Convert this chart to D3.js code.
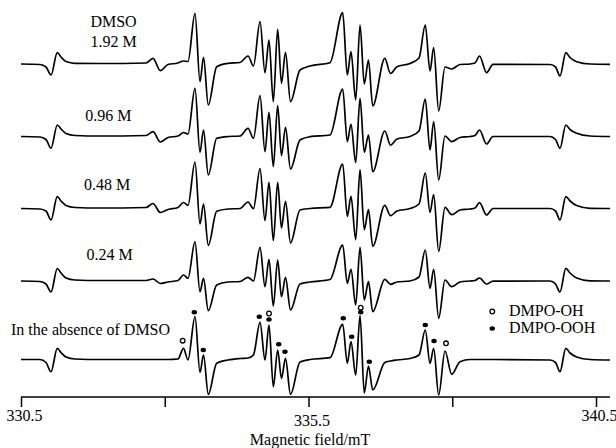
<!DOCTYPE html>
<html><head><meta charset="utf-8">
<script src="https://cdn.jsdelivr.net/npm/d3@7"></script>
<style>
body{margin:0;background:#fff}
svg{display:block}
text{font-family:"Liberation Serif","Times New Roman",serif;fill:#000}
</style>
</head><body>
<svg id="chart" width="616" height="448"></svg>
<script>
// ---- data (field in mT, intensities in arbitrary units) ----
const field = [330.500,330.830,330.935,331.022,331.131,331.196,331.283,331.439,331.874,332.674,
  332.796,332.923,333.057,333.230,333.326,333.404,333.526,333.613,333.674,333.757,
  333.903,334.100,334.309,334.448,334.543,334.657,334.743,334.813,334.888,334.964,
  335.030,335.100,335.187,335.352,335.526,335.874,336.095,336.175,336.239,336.321,
  336.396,336.470,336.543,336.617,336.827,336.926,337.039,337.265,337.422,337.531,
  337.613,337.677,337.764,337.874,337.990,338.135,338.309,338.396,338.474,338.596,
  338.709,339.700,339.796,339.874,339.975,340.048,340.164,340.396,340.743];

const dmso192 = [0,-0.5,-3,-11,11.3,7,2.5,0.7,0.5,1,
  5.7,-6.7,-0.5,1,3,2.5,50.7,-17.7,6.7,-41,
  -2.7,0.7,1.5,8,-2,42.3,-8.7,24,-37.7,34.7,
  -19.3,11.7,-37.7,-6,-2,1.3,51.3,-11,12.3,-36,
  39,-20,4,-42,5.7,-9.5,-2.7,0.5,6,39,
  -7,16.3,-47,-3,-5,-0.5,0,1,8,-8.7,
  -0.3,-0.5,-3,-12,11.3,6.5,2.3,0,-0.3];

const dmso096 = [0,-0.5,-3,-11.8,11.5,7.5,3,1,0.5,1,
  4.8,-5.5,-1,0.5,4,2.5,48.2,-15.8,6.5,-38.5,
  -1.8,0,0.5,8.2,-1.8,40.8,-15.2,24.2,-30.2,30.8,
  -19.2,9.2,-32.5,-3.5,-0.2,1.5,47.5,-5.2,12.2,-26,
  38.2,-15.8,1.5,-35.2,5.5,-8.5,-2.5,0,5.5,37.5,
  -13.5,14.8,-43.5,0.5,-5.2,-1,0,1,6.5,-7.5,
  0,0,-3,-11.8,11.5,7,3.2,0.5,0];

const dmso048 = [0,-0.5,-2.5,-11.5,11.8,7.5,3,1,0.5,1,
  5,-4,-1,1,6,3.2,46.5,-15.5,4.5,-36.8,
  -2.8,-0.5,0,6.5,-0.2,39.8,-12.2,26.2,-32.2,26.2,
  -19.5,7.2,-34.5,-1.5,0,1.2,44.5,-7.8,12.2,-31.2,
  38.8,-21.2,-1.2,-37.8,3.2,-7.2,-2.5,0,4.5,35.5,
  -3.8,13.8,-42.8,1.2,-6.2,-1.5,-0.5,0.5,5.8,-6.5,
  0,0,-2.5,-11.5,11.8,7.5,3,0.2,0];

const dmso024 = [0,-0.5,-3,-11,12.5,8,3,1,0.5,0.5,
  2,-2.5,-1,0.5,6,2.7,39.3,-10.7,2.7,-29.7,
  -4,-1,-0.5,3.7,0,33.7,-5.7,21.7,-25,21,
  -15.7,3.7,-29,-3,-1,1.5,36,-2.3,11.7,-24,
  33.7,-19,-0.7,-30.7,1.7,-3.3,-1,0,4,31,
  -7.3,11.7,-37.3,1,-5.7,-1,0,0.5,3,-3,
  -0.2,0,-3,-11,12.7,8,3,0.2,0];

const dmso000 = [0,0,-3,-12.2,11.2,7,2.5,0.5,0,0,
  0,0,0,0.5,11.2,-0.5,42.8,-12.8,4.5,-34.8,
  -3.8,-0.5,1,1.5,4.5,37.2,-0.5,34.5,-27.2,9.5,
  -18.8,1.2,-34.8,-2.5,0,1.8,35.2,-3.8,17.8,-15.5,
  43.8,-33.5,-6.5,-30.5,-3,-1.5,-0.5,1,4.5,29.5,
  -3.8,11.2,-35.5,8.5,-14.8,-2.2,0,0,0,0,
  0,-0.5,-3,-12.2,11.2,6.5,2.5,0,-0.5];

const seriesNames = [["DMSO","1.92 M"],["0.96 M"],["0.48 M"],["0.24 M"],["In the absence of DMSO"]];

// peak assignments on the bottom spectrum
const markerField = [333.312,333.514,333.670,334.644,334.813,334.813,334.982,335.091,
  336.105,336.251,336.408,336.408,336.557,337.531,337.683,337.891];
const markerKind  = ["OH","OOH","OOH","OOH","OH","OOH","OOH","OOH",
  "OOH","OOH","OH","OOH","OOH","OOH","OOH","OH"];
const markerLevel = [18.8,47.2,9.5,42.8,46,40,15.2,7.8,41.2,22.8,51.8,47.2,-2.2,34.5,18.5,16.2];

const legendKinds  = ["OH","OOH"];
const legendLabels = ["DMPO-OH","DMPO-OOH"];

const tickValues = [330.5,333,335.5,338,340.5];
const tickLabels = ["330.5","","335.5","","340.5"];
const xTitle = "Magnetic field/mT";

// ---- layout ----
const svg = d3.select("#chart");
const x = d3.scaleLinear().domain([330.5,340.5]).range([21,596]);
const y = d3.scaleLinear().domain([-50,50]).range([50,-50]);
const baselines = [64,136.5,208.5,281,359.5];
const series = [dmso192,dmso096,dmso048,dmso024,dmso000];

const line = d3.line()
  .x((d,i)=>x(field[i]))
  .y(d=>y(d))
  .curve(d3.curveMonotoneX);

series.forEach((s,k)=>{
  svg.append("g").attr("transform",`translate(0,${baselines[k]})`)
    .append("path").datum(s)
    .attr("d",line)
    .attr("fill","none").attr("stroke","#000")
    .attr("stroke-width",1.7).attr("stroke-linejoin","round");
});

// trace labels
const labelPos = [[113.5,[27.3,46.7]],[108.3,[120.7]],[107,[190]],[109.7,[260]]];
labelPos.forEach((p,k)=>{
  seriesNames[k].forEach((t,j)=>{
    svg.append("text").attr("x",p[0]).attr("y",p[1][j])
      .attr("text-anchor","middle").attr("font-size",16).text(t);
  });
});
svg.append("text").attr("x",11).attr("y",334.5).attr("font-size",16).text(seriesNames[4][0]);

// markers
const mg = svg.append("g").attr("transform",`translate(0,${baselines[4]})`);
markerField.forEach((f,i)=>{
  if(markerKind[i]==="OOH"){
    mg.append("ellipse").attr("cx",x(f)).attr("cy",y(markerLevel[i]))
      .attr("rx",2.7).attr("ry",2.2).attr("fill","#000");
  } else {
    mg.append("circle").attr("cx",x(f)).attr("cy",y(markerLevel[i]))
      .attr("r",2.3).attr("fill","#fff").attr("stroke","#000").attr("stroke-width",1.3);
  }
});

// legend
legendKinds.forEach((k,i)=>{
  const ly = 310.5 + i*17.5;
  if(k==="OOH"){
    svg.append("ellipse").attr("cx",492.3).attr("cy",ly+0.5).attr("rx",2.7).attr("ry",2.2).attr("fill","#000");
  } else {
    svg.append("circle").attr("cx",492.3).attr("cy",ly+1).attr("r",2.3)
      .attr("fill","#fff").attr("stroke","#000").attr("stroke-width",1.3);
  }
  svg.append("text").attr("x",509).attr("y",ly+5).attr("font-size",16).text(legendLabels[i]);
});

// axis
const ax = svg.append("g").attr("transform","translate(0,397)")
  .call(d3.axisBottom(x).tickValues(tickValues).tickSize(10)
    .tickFormat((d,i)=>tickLabels[i]));
ax.select(".domain").remove();
ax.append("line").attr("x1",x(field[0])).attr("x2",x(field[field.length-1]))
  .attr("stroke","#000").attr("stroke-width",1.5);
ax.selectAll(".tick line").attr("stroke","#000").attr("stroke-width",1.5);
ax.selectAll(".tick text").attr("font-size",16)
  .attr("font-family",'"Liberation Serif","Times New Roman",serif')
  .attr("fill","#000").attr("dx",3)
  .attr("dy",(d,i)=> i===2 ? "1.0em" : "0.71em");

svg.append("text").attr("x",310).attr("y",445).attr("text-anchor","middle")
  .attr("font-size",16).text(xTitle);
</script>
</body></html>
